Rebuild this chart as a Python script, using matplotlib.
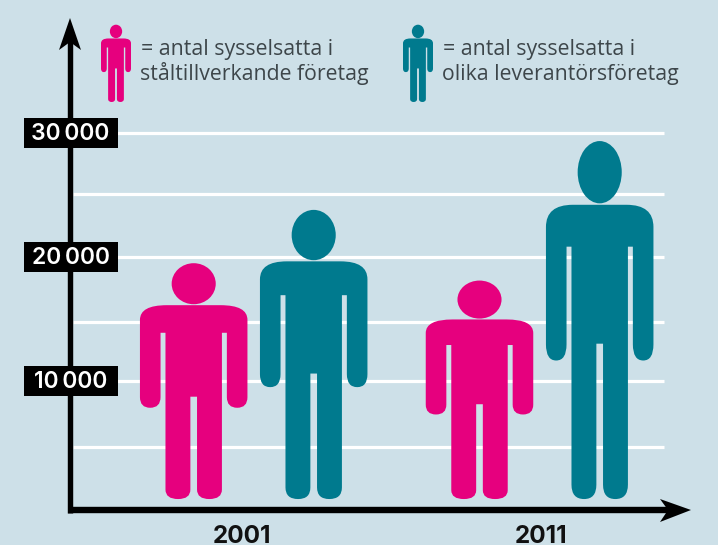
import matplotlib
matplotlib.use("Agg")
import matplotlib.pyplot as plt
from matplotlib.patches import Ellipse, PathPatch, Polygon, Rectangle
from matplotlib.path import Path

# values (height of each figure's head)
years = ["2001", "2011"]
steel_jobs = [19500, 18100]
supplier_jobs = [23800, 29350]
tick_values = [30000, 20000, 10000]
grid_values = [30000, 25080, 20000, 14760, 10000, 4680]
legend_lines = [
    ["= antal sysselsatta i", "ståltillverkande företag"],
    ["= antal sysselsatta i", "olika leverantörsföretag"],
]

BG = "#cde0e8"
PINK = "#e6007e"
TEAL = "#007a8e"
TEXT = "#3d464a"
FOOT = 480  # feet stop a little above the zero level


def yv(py):
    # image row -> chart value (10 000 = 124 px)
    return (505 - py) * 1000 / 12.4


# right half of the body, as (control point, end point), u across and v up
START = (0, 0.822)
HALF = [
    (None, (0.50, 0.822)),
    ((1, 0.822), (1, 0.760)),
    (None, (1, 0.432)),
    ((1, 0.387), (0.81, 0.387)),
    ((0.617, 0.387), (0.617, 0.432)),
    (None, (0.617, 0.705)),
    (None, (0.525, 0.705)),
    (None, (0.525, 0.040)),
    ((0.525, 0), (0.29, 0)),
    ((0.062, 0), (0.062, 0.040)),
    (None, (0.062, 0.434)),
    (None, (0, 0.434)),
]


def person(ax, cx, top, half_w, color, base=FOOT):
    h = top - base
    pts = [START]
    codes = [Path.MOVETO]
    ends = [START]
    for ctrl, end in HALF:
        if ctrl is None:
            pts.append(end)
            codes.append(Path.LINETO)
        else:
            pts += [ctrl, end]
            codes += [Path.CURVE3, Path.CURVE3]
        ends.append(end)
    # mirrored side, walked backwards
    for i in range(len(HALF) - 1, -1, -1):
        ctrl = HALF[i][0]
        prev = ends[i]
        if ctrl is None:
            pts.append((-prev[0], prev[1]))
            codes.append(Path.LINETO)
        else:
            pts += [(-ctrl[0], ctrl[1]), (-prev[0], prev[1])]
            codes += [Path.CURVE3, Path.CURVE3]
    verts = [(cx + u * half_w, base + v * h) for u, v in pts]
    ax.add_patch(PathPatch(Path(verts, codes), fc=color, ec="none", zorder=4))
    ax.add_patch(Ellipse((cx, base + 0.913 * h), 0.82 * half_w, 0.174 * h,
                         fc=color, ec="none", zorder=4))


fig = plt.figure(figsize=(7.18, 5.45), dpi=100, facecolor=BG)
ax = fig.add_axes([0, 0, 1, 1])
ax.set_xlim(0, 718)
ax.set_ylim(yv(545), yv(0))
ax.axis("off")

# grid
ax.hlines(grid_values, 73, 664, color="white", lw=2.3, zorder=1)

# axes with arrow heads
ax.plot([70.3, 70.3], [yv(513), yv(40)], color="black", lw=3.9,
        solid_capstyle="butt", zorder=2)
ax.plot([67.6, 672], [yv(510), yv(510)], color="black", lw=4.6,
        solid_capstyle="butt", zorder=2)
ax.add_patch(Polygon([(70, yv(18)), (81, yv(50)), (70, yv(42)), (59, yv(50))],
                     fc="black", ec="none", zorder=2))
ax.add_patch(Polygon([(691, yv(510)), (660, yv(499)), (668, yv(510)), (660, yv(522))],
                     fc="black", ec="none", zorder=2))

# tick labels in black boxes
for v in tick_values:
    ax.add_patch(Rectangle((24, v - 1200), 94, 2400, fc="black", ec="none", zorder=3))
    ax.text(70.5, v - 60, f"{v:,}".replace(",", "\u2009"), color="white", ha="center",
            va="center", fontsize=16.5, family=["Inter", "DejaVu Sans"], weight="semibold", zorder=5)

# the figures
steel_x = [193.7, 479.5]
supplier_x = [313.7, 599.7]
for i, year in enumerate(years):
    person(ax, steel_x[i], steel_jobs[i], 53.75, PINK)
    person(ax, supplier_x[i], supplier_jobs[i], 53.75, TEAL)
    ax.text([242.5, 541][i], yv(543), year, ha="center", va="baseline", color="#111111",
            fontsize=17.5, family="Inter", weight="bold")

# legend
person(ax, 116, yv(24.7), 15, PINK, base=yv(102))
person(ax, 418, yv(24.7), 15, TEAL, base=yv(102))
for x, lines in zip([141, 443], legend_lines):
    ax.text(x, yv(55), lines[0], color=TEXT, fontsize=15.3, family="Open Sans", va="baseline")
    ax.text(x - 1, yv(80), lines[1], color=TEXT, fontsize=15.3, family="Open Sans", va="baseline")

fig.savefig("out.png", dpi=100, facecolor=BG)
